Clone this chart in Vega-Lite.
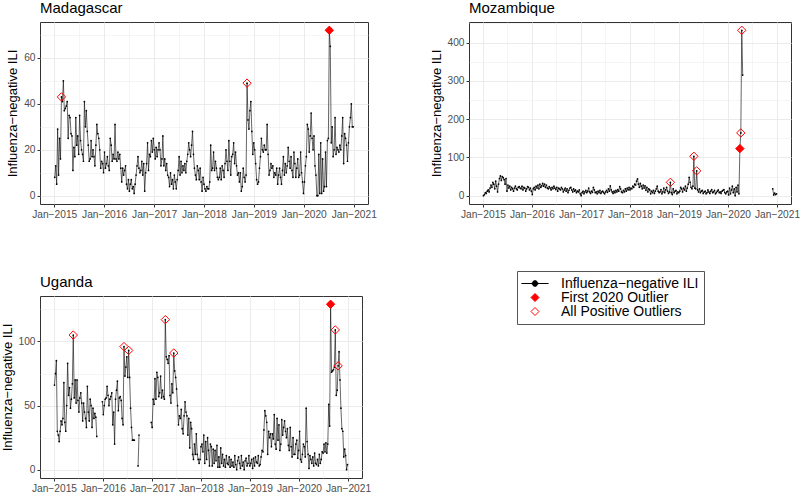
{
"$schema": "https://vega.github.io/schema/vega-lite/v6.json",
"background": "white",
"padding": {"left": 0, "top": 0, "right": 0, "bottom": 0},
"autosize": {"type": "pad"},
"config": {
 "font": "Liberation Sans",
 "view": {"stroke": "#333333", "strokeWidth": 1},
 "title": {"anchor": "start", "frame": "group", "fontSize": 15, "fontWeight": "normal", "color": "black", "offset": 6, "font": "Liberation Sans"},
 "axis": {"domain": false, "tickColor": "#333333", "tickSize": 3, "labelColor": "#4D4D4D", "labelFontSize": 10.2, "labelFont": "Liberation Sans", "titleFont": "Liberation Sans", "titleFontSize": 13, "titleFontWeight": "normal", "titleColor": "black", "gridColor": "#EBEBEB", "labelPadding": 2, "titlePadding": 4, "labelOverlap": false, "labelFlush": false},
 "legend": {"padding": 5.5, "rowPadding": -3.5, "strokeColor": "#555555", "fillColor": "white", "labelFontSize": 14, "labelColor": "black", "labelFont": "Liberation Sans", "labelLimit": 300, "symbolSize": 64, "symbolOffset": 5.5, "labelOffset": 19, "symbolStrokeWidth": 1}
},
"datasets": {
"mad": [
{"d":"2015-01-05","v":8},{"d":"2015-01-12","v":13},{"d":"2015-01-19","v":5},{"d":"2015-01-26","v":29},{"d":"2015-02-02","v":9},{"d":"2015-02-09","v":25},{"d":"2015-02-16","v":16},{"d":"2015-02-23","v":43},{"d":"2015-03-02","v":41},{"d":"2015-03-09","v":50},{"d":"2015-03-16","v":37},{"d":"2015-03-23","v":38},{"d":"2015-03-30","v":39},{"d":"2015-04-06","v":41},{"d":"2015-04-13","v":25},{"d":"2015-04-20","v":35},{"d":"2015-04-27","v":34},{"d":"2015-05-04","v":27},{"d":"2015-05-11","v":26},{"d":"2015-05-18","v":11},{"d":"2015-05-25","v":21},{"d":"2015-06-01","v":17},{"d":"2015-06-08","v":34},{"d":"2015-06-15","v":22},{"d":"2015-06-22","v":26},{"d":"2015-06-29","v":18},{"d":"2015-07-06","v":35},{"d":"2015-07-13","v":24},{"d":"2015-07-20","v":20},{"d":"2015-07-27","v":18},{"d":"2015-08-03","v":15},{"d":"2015-08-10","v":41},{"d":"2015-08-17","v":30},{"d":"2015-08-24","v":37},{"d":"2015-08-31","v":28},{"d":"2015-09-07","v":22},{"d":"2015-09-14","v":15},{"d":"2015-09-21","v":16},{"d":"2015-09-28","v":24},{"d":"2015-10-05","v":17},{"d":"2015-10-12","v":20},{"d":"2015-10-19","v":17},{"d":"2015-10-26","v":13},{"d":"2015-11-02","v":22},{"d":"2015-11-09","v":31},{"d":"2015-11-16","v":27},{"d":"2015-11-23","v":25},{"d":"2015-11-30","v":20},{"d":"2015-12-07","v":12},{"d":"2015-12-14","v":15},{"d":"2015-12-21","v":14},{"d":"2015-12-28","v":10},
{"d":"2016-01-04","v":19},{"d":"2016-01-11","v":12},{"d":"2016-01-18","v":14},{"d":"2016-01-25","v":17},{"d":"2016-02-01","v":13},{"d":"2016-02-08","v":11},{"d":"2016-02-15","v":25},{"d":"2016-02-22","v":22},{"d":"2016-02-29","v":15},{"d":"2016-03-07","v":18},{"d":"2016-03-14","v":16},{"d":"2016-03-21","v":31},{"d":"2016-03-28","v":16},{"d":"2016-04-04","v":15},{"d":"2016-04-11","v":19},{"d":"2016-04-18","v":16},{"d":"2016-04-25","v":18},{"d":"2016-05-02","v":12},{"d":"2016-05-09","v":6},{"d":"2016-05-16","v":12},{"d":"2016-05-23","v":9},{"d":"2016-05-30","v":11},{"d":"2016-06-06","v":13},{"d":"2016-06-13","v":5},{"d":"2016-06-20","v":3},{"d":"2016-06-27","v":7},{"d":"2016-07-04","v":2},{"d":"2016-07-11","v":5},{"d":"2016-07-18","v":7},{"d":"2016-07-25","v":3},{"d":"2016-08-01","v":4},{"d":"2016-08-08","v":1},{"d":"2016-08-15","v":5},{"d":"2016-08-22","v":9},{"d":"2016-08-29","v":13},{"d":"2016-09-05","v":17},{"d":"2016-09-12","v":12},{"d":"2016-09-19","v":10},{"d":"2016-09-26","v":11},{"d":"2016-10-03","v":15},{"d":"2016-10-10","v":9},{"d":"2016-10-17","v":14},{"d":"2016-10-24","v":2},{"d":"2016-10-31","v":10},{"d":"2016-11-07","v":14},{"d":"2016-11-14","v":23},{"d":"2016-11-21","v":11},{"d":"2016-11-28","v":18},{"d":"2016-12-05","v":17},{"d":"2016-12-12","v":24},{"d":"2016-12-19","v":19},{"d":"2016-12-26","v":25},
{"d":"2017-01-02","v":20},{"d":"2017-01-09","v":16},{"d":"2017-01-16","v":21},{"d":"2017-01-23","v":17},{"d":"2017-01-30","v":20},{"d":"2017-02-06","v":23},{"d":"2017-02-13","v":20},{"d":"2017-02-20","v":13},{"d":"2017-02-27","v":16},{"d":"2017-03-06","v":26},{"d":"2017-03-13","v":13},{"d":"2017-03-20","v":16},{"d":"2017-03-27","v":11},{"d":"2017-04-03","v":14},{"d":"2017-04-10","v":9},{"d":"2017-04-17","v":8},{"d":"2017-04-24","v":4},{"d":"2017-05-01","v":10},{"d":"2017-05-08","v":5},{"d":"2017-05-15","v":7},{"d":"2017-05-22","v":3},{"d":"2017-05-29","v":9},{"d":"2017-06-05","v":6},{"d":"2017-06-12","v":3},{"d":"2017-06-19","v":7},{"d":"2017-06-26","v":11},{"d":"2017-07-03","v":17},{"d":"2017-07-10","v":9},{"d":"2017-07-17","v":15},{"d":"2017-07-24","v":10},{"d":"2017-07-31","v":13},{"d":"2017-08-07","v":11},{"d":"2017-08-14","v":14},{"d":"2017-08-21","v":10},{"d":"2017-08-28","v":15},{"d":"2017-09-04","v":18},{"d":"2017-09-11","v":23},{"d":"2017-09-18","v":20},{"d":"2017-09-25","v":17},{"d":"2017-10-02","v":22},{"d":"2017-10-09","v":28},{"d":"2017-10-16","v":18},{"d":"2017-10-23","v":12},{"d":"2017-10-30","v":9},{"d":"2017-11-06","v":7},{"d":"2017-11-13","v":13},{"d":"2017-11-20","v":11},{"d":"2017-11-27","v":7},{"d":"2017-12-04","v":12},{"d":"2017-12-11","v":6},{"d":"2017-12-18","v":2},{"d":"2017-12-25","v":8},
{"d":"2018-01-01","v":5},{"d":"2018-01-08","v":3},{"d":"2018-01-15","v":2},{"d":"2018-01-22","v":4},{"d":"2018-01-29","v":3},{"d":"2018-02-05","v":3},{"d":"2018-02-12","v":6},{"d":"2018-02-19","v":22},{"d":"2018-02-26","v":11},{"d":"2018-03-05","v":12},{"d":"2018-03-12","v":19},{"d":"2018-03-19","v":11},{"d":"2018-03-26","v":15},{"d":"2018-04-02","v":12},{"d":"2018-04-09","v":8},{"d":"2018-04-16","v":7},{"d":"2018-04-23","v":8},{"d":"2018-04-30","v":12},{"d":"2018-05-07","v":7},{"d":"2018-05-14","v":13},{"d":"2018-05-21","v":11},{"d":"2018-05-28","v":8},{"d":"2018-06-04","v":14},{"d":"2018-06-11","v":20},{"d":"2018-06-18","v":15},{"d":"2018-06-25","v":11},{"d":"2018-07-02","v":24},{"d":"2018-07-09","v":15},{"d":"2018-07-16","v":9},{"d":"2018-07-23","v":17},{"d":"2018-07-30","v":18},{"d":"2018-08-06","v":23},{"d":"2018-08-13","v":14},{"d":"2018-08-20","v":19},{"d":"2018-08-27","v":13},{"d":"2018-09-03","v":9},{"d":"2018-09-10","v":10},{"d":"2018-09-17","v":6},{"d":"2018-09-24","v":10},{"d":"2018-10-01","v":2},{"d":"2018-10-08","v":4},{"d":"2018-10-15","v":12},{"d":"2018-10-22","v":8},{"d":"2018-10-29","v":6},{"d":"2018-11-05","v":9},{"d":"2018-11-12","v":49},{"d":"2018-11-19","v":33},{"d":"2018-11-26","v":29},{"d":"2018-12-03","v":37},{"d":"2018-12-10","v":41},{"d":"2018-12-17","v":28},{"d":"2018-12-24","v":18},{"d":"2018-12-31","v":23},
{"d":"2019-01-07","v":20},{"d":"2019-01-14","v":14},{"d":"2019-01-21","v":7},{"d":"2019-01-28","v":5},{"d":"2019-02-04","v":6},{"d":"2019-02-11","v":12},{"d":"2019-02-18","v":17},{"d":"2019-02-25","v":25},{"d":"2019-03-04","v":20},{"d":"2019-03-11","v":19},{"d":"2019-03-18","v":22},{"d":"2019-03-25","v":20},{"d":"2019-04-01","v":20},{"d":"2019-04-08","v":31},{"d":"2019-04-15","v":18},{"d":"2019-04-22","v":9},{"d":"2019-04-29","v":11},{"d":"2019-05-06","v":14},{"d":"2019-05-13","v":12},{"d":"2019-05-20","v":13},{"d":"2019-05-27","v":8},{"d":"2019-06-03","v":10},{"d":"2019-06-10","v":9},{"d":"2019-06-17","v":12},{"d":"2019-06-24","v":5},{"d":"2019-07-01","v":9},{"d":"2019-07-08","v":12},{"d":"2019-07-15","v":8},{"d":"2019-07-22","v":5},{"d":"2019-07-29","v":11},{"d":"2019-08-05","v":17},{"d":"2019-08-12","v":9},{"d":"2019-08-19","v":14},{"d":"2019-08-26","v":10},{"d":"2019-09-02","v":13},{"d":"2019-09-09","v":21},{"d":"2019-09-16","v":15},{"d":"2019-09-23","v":12},{"d":"2019-09-30","v":17},{"d":"2019-10-07","v":11},{"d":"2019-10-14","v":8},{"d":"2019-10-21","v":19},{"d":"2019-10-28","v":14},{"d":"2019-11-04","v":8},{"d":"2019-11-11","v":12},{"d":"2019-11-18","v":16},{"d":"2019-11-25","v":8},{"d":"2019-12-02","v":9},{"d":"2019-12-09","v":19},{"d":"2019-12-16","v":10},{"d":"2019-12-23","v":6},{"d":"2019-12-30","v":1},
{"d":"2020-01-06","v":6},{"d":"2020-01-13","v":13},{"d":"2020-01-20","v":17},{"d":"2020-01-27","v":31},{"d":"2020-02-03","v":29},{"d":"2020-02-10","v":19},{"d":"2020-02-17","v":26},{"d":"2020-02-24","v":36},{"d":"2020-03-02","v":25},{"d":"2020-03-09","v":20},{"d":"2020-03-16","v":26},{"d":"2020-03-23","v":13},{"d":"2020-03-30","v":9},{"d":"2020-04-06","v":0},{"d":"2020-04-13","v":0},{"d":"2020-04-20","v":18},{"d":"2020-04-27","v":1},{"d":"2020-05-04","v":23},{"d":"2020-05-11","v":1},{"d":"2020-05-18","v":16},{"d":"2020-05-25","v":2},{"d":"2020-06-01","v":4},{"d":"2020-06-08","v":19},{"d":"2020-06-15","v":4},{"d":"2020-06-22","v":24},{"d":"2020-06-29","v":25},{"d":"2020-07-06","v":72},{"d":"2020-07-13","v":65},{"d":"2020-07-20","v":23},{"d":"2020-07-27","v":30},{"d":"2020-08-03","v":17},{"d":"2020-08-10","v":20},{"d":"2020-08-17","v":34},{"d":"2020-08-24","v":18},{"d":"2020-08-31","v":21},{"d":"2020-09-07","v":20},{"d":"2020-09-14","v":19},{"d":"2020-09-21","v":22},{"d":"2020-09-28","v":20},{"d":"2020-10-05","v":26},{"d":"2020-10-12","v":34},{"d":"2020-10-19","v":14},{"d":"2020-10-26","v":27},{"d":"2020-11-02","v":25},{"d":"2020-11-09","v":22},{"d":"2020-11-16","v":15},{"d":"2020-11-23","v":23},{"d":"2020-11-30","v":30},{"d":"2020-12-07","v":34},{"d":"2020-12-14","v":40},{"d":"2020-12-21","v":30},{"d":"2020-12-28","v":30}
],
"madOut": [
{"d":"2015-02-23","v":43,"t":"All Positive Outliers"},{"d":"2018-11-12","v":49,"t":"All Positive Outliers"},{"d":"2020-07-06","v":72,"t":"First 2020 Outlier"}
],
"moz": [
{"d":"2015-01-05","v":0},{"d":"2015-01-12","v":3},{"d":"2015-01-19","v":8},{"d":"2015-01-26","v":6},{"d":"2015-02-02","v":12},{"d":"2015-02-09","v":15},{"d":"2015-02-16","v":10},{"d":"2015-02-23","v":20},{"d":"2015-03-02","v":28},{"d":"2015-03-09","v":22},{"d":"2015-03-16","v":35},{"d":"2015-03-23","v":30},{"d":"2015-03-30","v":18},{"d":"2015-04-06","v":38},{"d":"2015-04-13","v":25},{"d":"2015-04-20","v":10},{"d":"2015-04-27","v":30},{"d":"2015-05-04","v":45},{"d":"2015-05-11","v":52},{"d":"2015-05-18","v":40},{"d":"2015-05-25","v":50},{"d":"2015-06-01","v":47},{"d":"2015-06-08","v":42},{"d":"2015-06-15","v":30},{"d":"2015-06-22","v":45},{"d":"2015-06-29","v":12},{"d":"2015-07-06","v":28},{"d":"2015-07-13","v":20},{"d":"2015-07-20","v":25},{"d":"2015-07-27","v":15},{"d":"2015-08-03","v":22},{"d":"2015-08-10","v":18},{"d":"2015-08-17","v":12},{"d":"2015-08-24","v":20},{"d":"2015-08-31","v":25},{"d":"2015-09-07","v":18},{"d":"2015-09-14","v":15},{"d":"2015-09-21","v":22},{"d":"2015-09-28","v":24},{"d":"2015-10-05","v":20},{"d":"2015-10-12","v":18},{"d":"2015-10-19","v":25},{"d":"2015-10-26","v":15},{"d":"2015-11-02","v":22},{"d":"2015-11-09","v":20},{"d":"2015-11-16","v":12},{"d":"2015-11-23","v":18},{"d":"2015-11-30","v":24},{"d":"2015-12-07","v":22},{"d":"2015-12-14","v":15},{"d":"2015-12-21","v":20},{"d":"2015-12-28","v":12},
{"d":"2016-01-04","v":3},{"d":"2016-01-11","v":18},{"d":"2016-01-18","v":22},{"d":"2016-01-25","v":15},{"d":"2016-02-01","v":25},{"d":"2016-02-08","v":20},{"d":"2016-02-15","v":28},{"d":"2016-02-22","v":18},{"d":"2016-02-29","v":30},{"d":"2016-03-07","v":22},{"d":"2016-03-14","v":26},{"d":"2016-03-21","v":32},{"d":"2016-03-28","v":25},{"d":"2016-04-04","v":30},{"d":"2016-04-11","v":22},{"d":"2016-04-18","v":28},{"d":"2016-04-25","v":20},{"d":"2016-05-02","v":18},{"d":"2016-05-09","v":24},{"d":"2016-05-16","v":20},{"d":"2016-05-23","v":15},{"d":"2016-05-30","v":22},{"d":"2016-06-06","v":18},{"d":"2016-06-13","v":25},{"d":"2016-06-20","v":20},{"d":"2016-06-27","v":16},{"d":"2016-07-04","v":22},{"d":"2016-07-11","v":12},{"d":"2016-07-18","v":20},{"d":"2016-07-25","v":18},{"d":"2016-08-01","v":15},{"d":"2016-08-08","v":22},{"d":"2016-08-15","v":18},{"d":"2016-08-22","v":10},{"d":"2016-08-29","v":15},{"d":"2016-09-05","v":20},{"d":"2016-09-12","v":12},{"d":"2016-09-19","v":18},{"d":"2016-09-26","v":8},{"d":"2016-10-03","v":14},{"d":"2016-10-10","v":20},{"d":"2016-10-17","v":22},{"d":"2016-10-24","v":15},{"d":"2016-10-31","v":10},{"d":"2016-11-07","v":18},{"d":"2016-11-14","v":12},{"d":"2016-11-21","v":15},{"d":"2016-11-28","v":8},{"d":"2016-12-05","v":12},{"d":"2016-12-12","v":10},{"d":"2016-12-19","v":15},{"d":"2016-12-26","v":5},
{"d":"2017-01-02","v":0},{"d":"2017-01-09","v":8},{"d":"2017-01-16","v":12},{"d":"2017-01-23","v":5},{"d":"2017-01-30","v":10},{"d":"2017-02-06","v":14},{"d":"2017-02-13","v":8},{"d":"2017-02-20","v":12},{"d":"2017-02-27","v":20},{"d":"2017-03-06","v":10},{"d":"2017-03-13","v":6},{"d":"2017-03-20","v":12},{"d":"2017-03-27","v":9},{"d":"2017-04-03","v":22},{"d":"2017-04-10","v":15},{"d":"2017-04-17","v":8},{"d":"2017-04-24","v":10},{"d":"2017-05-01","v":5},{"d":"2017-05-08","v":12},{"d":"2017-05-15","v":8},{"d":"2017-05-22","v":14},{"d":"2017-05-29","v":6},{"d":"2017-06-05","v":10},{"d":"2017-06-12","v":12},{"d":"2017-06-19","v":8},{"d":"2017-06-26","v":5},{"d":"2017-07-03","v":10},{"d":"2017-07-10","v":14},{"d":"2017-07-17","v":9},{"d":"2017-07-24","v":18},{"d":"2017-07-31","v":12},{"d":"2017-08-07","v":26},{"d":"2017-08-14","v":15},{"d":"2017-08-21","v":10},{"d":"2017-08-28","v":6},{"d":"2017-09-04","v":12},{"d":"2017-09-11","v":8},{"d":"2017-09-18","v":14},{"d":"2017-09-25","v":10},{"d":"2017-10-02","v":16},{"d":"2017-10-09","v":12},{"d":"2017-10-16","v":24},{"d":"2017-10-23","v":18},{"d":"2017-10-30","v":10},{"d":"2017-11-06","v":8},{"d":"2017-11-13","v":14},{"d":"2017-11-20","v":10},{"d":"2017-11-27","v":18},{"d":"2017-12-04","v":12},{"d":"2017-12-11","v":20},{"d":"2017-12-18","v":15},{"d":"2017-12-25","v":22},
{"d":"2018-01-01","v":15},{"d":"2018-01-08","v":20},{"d":"2018-01-15","v":18},{"d":"2018-01-22","v":25},{"d":"2018-01-29","v":22},{"d":"2018-02-05","v":30},{"d":"2018-02-12","v":28},{"d":"2018-02-19","v":38},{"d":"2018-02-26","v":44},{"d":"2018-03-05","v":30},{"d":"2018-03-12","v":22},{"d":"2018-03-19","v":32},{"d":"2018-03-26","v":25},{"d":"2018-04-02","v":18},{"d":"2018-04-09","v":28},{"d":"2018-04-16","v":20},{"d":"2018-04-23","v":26},{"d":"2018-04-30","v":14},{"d":"2018-05-07","v":22},{"d":"2018-05-14","v":10},{"d":"2018-05-21","v":18},{"d":"2018-05-28","v":15},{"d":"2018-06-04","v":5},{"d":"2018-06-11","v":12},{"d":"2018-06-18","v":8},{"d":"2018-06-25","v":14},{"d":"2018-07-02","v":6},{"d":"2018-07-09","v":12},{"d":"2018-07-16","v":18},{"d":"2018-07-23","v":25},{"d":"2018-07-30","v":12},{"d":"2018-08-06","v":8},{"d":"2018-08-13","v":10},{"d":"2018-08-20","v":16},{"d":"2018-08-27","v":5},{"d":"2018-09-03","v":10},{"d":"2018-09-10","v":20},{"d":"2018-09-17","v":8},{"d":"2018-09-24","v":15},{"d":"2018-10-01","v":22},{"d":"2018-10-08","v":12},{"d":"2018-10-15","v":6},{"d":"2018-10-22","v":10},{"d":"2018-10-29","v":35},{"d":"2018-11-05","v":8},{"d":"2018-11-12","v":3},{"d":"2018-11-19","v":18},{"d":"2018-11-26","v":8},{"d":"2018-12-03","v":12},{"d":"2018-12-10","v":14},{"d":"2018-12-17","v":5},{"d":"2018-12-24","v":10},{"d":"2018-12-31","v":8},
{"d":"2019-01-07","v":12},{"d":"2019-01-14","v":22},{"d":"2019-01-21","v":18},{"d":"2019-01-28","v":10},{"d":"2019-02-04","v":20},{"d":"2019-02-11","v":15},{"d":"2019-02-18","v":25},{"d":"2019-02-25","v":12},{"d":"2019-03-04","v":20},{"d":"2019-03-11","v":30},{"d":"2019-03-18","v":48},{"d":"2019-03-25","v":35},{"d":"2019-04-01","v":22},{"d":"2019-04-08","v":18},{"d":"2019-04-15","v":25},{"d":"2019-04-22","v":103},{"d":"2019-04-29","v":20},{"d":"2019-05-06","v":18},{"d":"2019-05-13","v":65},{"d":"2019-05-20","v":15},{"d":"2019-05-27","v":10},{"d":"2019-06-03","v":18},{"d":"2019-06-10","v":8},{"d":"2019-06-17","v":12},{"d":"2019-06-24","v":14},{"d":"2019-07-01","v":6},{"d":"2019-07-08","v":10},{"d":"2019-07-15","v":12},{"d":"2019-07-22","v":5},{"d":"2019-07-29","v":8},{"d":"2019-08-05","v":15},{"d":"2019-08-12","v":10},{"d":"2019-08-19","v":6},{"d":"2019-08-26","v":12},{"d":"2019-09-02","v":16},{"d":"2019-09-09","v":8},{"d":"2019-09-16","v":10},{"d":"2019-09-23","v":14},{"d":"2019-09-30","v":5},{"d":"2019-10-07","v":8},{"d":"2019-10-14","v":12},{"d":"2019-10-21","v":15},{"d":"2019-10-28","v":8},{"d":"2019-11-04","v":10},{"d":"2019-11-11","v":6},{"d":"2019-11-18","v":12},{"d":"2019-11-25","v":14},{"d":"2019-12-02","v":16},{"d":"2019-12-09","v":8},{"d":"2019-12-16","v":5},{"d":"2019-12-23","v":10},{"d":"2019-12-30","v":12},
{"d":"2020-01-06","v":2},{"d":"2020-01-13","v":20},{"d":"2020-01-20","v":5},{"d":"2020-01-27","v":15},{"d":"2020-02-03","v":25},{"d":"2020-02-10","v":8},{"d":"2020-02-17","v":18},{"d":"2020-02-24","v":0},{"d":"2020-03-02","v":22},{"d":"2020-03-09","v":10},{"d":"2020-03-16","v":28},{"d":"2020-03-23","v":5},{"d":"2020-03-30","v":123},{"d":"2020-04-06","v":164},{"d":"2020-04-13","v":432},{"d":"2020-04-20","v":315},{"d":"2020-04-27","v":null},
{"d":"2020-11-30","v":18},{"d":"2020-12-07","v":2},{"d":"2020-12-14","v":7},{"d":"2020-12-21","v":3},{"d":"2020-12-28","v":5}
],
"mozOut": [
{"d":"2018-10-29","v":35,"t":"All Positive Outliers"},{"d":"2019-04-22","v":103,"t":"All Positive Outliers"},{"d":"2019-05-13","v":65,"t":"All Positive Outliers"},{"d":"2020-03-30","v":123,"t":"First 2020 Outlier"},{"d":"2020-04-06","v":164,"t":"All Positive Outliers"},{"d":"2020-04-13","v":432,"t":"All Positive Outliers"}
],
"uga": [
{"d":"2015-01-05","v":66},{"d":"2015-01-12","v":75},{"d":"2015-01-19","v":85},{"d":"2015-01-26","v":30},{"d":"2015-02-02","v":27},{"d":"2015-02-09","v":22},{"d":"2015-02-16","v":30},{"d":"2015-02-23","v":38},{"d":"2015-03-02","v":35},{"d":"2015-03-09","v":40},{"d":"2015-03-16","v":68},{"d":"2015-03-23","v":37},{"d":"2015-03-30","v":30},{"d":"2015-04-06","v":50},{"d":"2015-04-13","v":83},{"d":"2015-04-20","v":58},{"d":"2015-04-27","v":64},{"d":"2015-05-04","v":48},{"d":"2015-05-11","v":55},{"d":"2015-05-18","v":67},{"d":"2015-05-25","v":105},{"d":"2015-06-01","v":56},{"d":"2015-06-08","v":70},{"d":"2015-06-15","v":52},{"d":"2015-06-22","v":70},{"d":"2015-06-29","v":54},{"d":"2015-07-06","v":45},{"d":"2015-07-13","v":56},{"d":"2015-07-20","v":60},{"d":"2015-07-27","v":52},{"d":"2015-08-03","v":38},{"d":"2015-08-10","v":52},{"d":"2015-08-17","v":45},{"d":"2015-08-24","v":40},{"d":"2015-08-31","v":33},{"d":"2015-09-07","v":65},{"d":"2015-09-14","v":45},{"d":"2015-09-21","v":38},{"d":"2015-09-28","v":55},{"d":"2015-10-05","v":50},{"d":"2015-10-12","v":33},{"d":"2015-10-19","v":48},{"d":"2015-10-26","v":40},{"d":"2015-11-02","v":44},{"d":"2015-11-09","v":41},{"d":"2015-11-16","v":26},{"d":"2015-11-23","v":null},
{"d":"2015-12-28","v":53},{"d":"2016-01-04","v":43},{"d":"2016-01-11","v":50},{"d":"2016-01-18","v":55},{"d":"2016-01-25","v":56},{"d":"2016-02-01","v":65},{"d":"2016-02-08","v":58},{"d":"2016-02-15","v":50},{"d":"2016-02-22","v":55},{"d":"2016-02-29","v":57},{"d":"2016-03-07","v":60},{"d":"2016-03-14","v":35},{"d":"2016-03-21","v":45},{"d":"2016-03-28","v":20},{"d":"2016-04-04","v":55},{"d":"2016-04-11","v":62},{"d":"2016-04-18","v":69},{"d":"2016-04-25","v":46},{"d":"2016-05-02","v":56},{"d":"2016-05-09","v":57},{"d":"2016-05-16","v":54},{"d":"2016-05-23","v":40},{"d":"2016-05-30","v":35},{"d":"2016-06-06","v":96},{"d":"2016-06-13","v":73},{"d":"2016-06-20","v":80},{"d":"2016-06-27","v":88},{"d":"2016-07-04","v":72},{"d":"2016-07-11","v":93},{"d":"2016-07-18","v":72},{"d":"2016-07-25","v":48},{"d":"2016-08-01","v":33},{"d":"2016-08-08","v":23},{"d":"2016-08-15","v":23},{"d":"2016-08-22","v":23},{"d":"2016-09-05","v":null},{"d":"2016-09-19","v":3},{"d":"2016-09-26","v":27},{"d":"2016-10-03","v":null},
{"d":"2016-12-26","v":37},{"d":"2017-01-02","v":33},{"d":"2017-01-09","v":55},{"d":"2017-01-16","v":51},{"d":"2017-01-23","v":71},{"d":"2017-01-30","v":55},{"d":"2017-02-06","v":76},{"d":"2017-02-13","v":72},{"d":"2017-02-20","v":57},{"d":"2017-02-27","v":60},{"d":"2017-03-06","v":73},{"d":"2017-03-13","v":56},{"d":"2017-03-20","v":62},{"d":"2017-03-27","v":57},{"d":"2017-04-03","v":55},{"d":"2017-04-10","v":117},{"d":"2017-04-17","v":88},{"d":"2017-04-24","v":86},{"d":"2017-05-01","v":83},{"d":"2017-05-08","v":89},{"d":"2017-05-15","v":58},{"d":"2017-05-22","v":52},{"d":"2017-05-29","v":67},{"d":"2017-06-05","v":60},{"d":"2017-06-12","v":91},{"d":"2017-06-19","v":77},{"d":"2017-06-26","v":72},{"d":"2017-07-03","v":63},{"d":"2017-07-10","v":50},{"d":"2017-07-17","v":35},{"d":"2017-07-24","v":42},{"d":"2017-07-31","v":40},{"d":"2017-08-07","v":47},{"d":"2017-08-14","v":32},{"d":"2017-08-21","v":28},{"d":"2017-08-28","v":42},{"d":"2017-09-04","v":53},{"d":"2017-09-11","v":45},{"d":"2017-09-18","v":42},{"d":"2017-09-25","v":27},{"d":"2017-10-02","v":40},{"d":"2017-10-09","v":17},{"d":"2017-10-16","v":37},{"d":"2017-10-23","v":32},{"d":"2017-10-30","v":12},{"d":"2017-11-06","v":8},{"d":"2017-11-13","v":20},{"d":"2017-11-20","v":12},{"d":"2017-11-27","v":28},{"d":"2017-12-04","v":12},{"d":"2017-12-11","v":8},{"d":"2017-12-18","v":5},{"d":"2017-12-25","v":8},
{"d":"2018-01-01","v":18},{"d":"2018-01-08","v":20},{"d":"2018-01-15","v":14},{"d":"2018-01-22","v":27},{"d":"2018-01-29","v":5},{"d":"2018-02-05","v":22},{"d":"2018-02-12","v":8},{"d":"2018-02-19","v":25},{"d":"2018-02-26","v":15},{"d":"2018-03-05","v":3},{"d":"2018-03-12","v":20},{"d":"2018-03-19","v":18},{"d":"2018-03-26","v":3},{"d":"2018-04-02","v":16},{"d":"2018-04-09","v":5},{"d":"2018-04-16","v":15},{"d":"2018-04-23","v":7},{"d":"2018-04-30","v":19},{"d":"2018-05-07","v":2},{"d":"2018-05-14","v":10},{"d":"2018-05-21","v":2},{"d":"2018-05-28","v":17},{"d":"2018-06-04","v":5},{"d":"2018-06-11","v":12},{"d":"2018-06-18","v":3},{"d":"2018-06-25","v":8},{"d":"2018-07-02","v":2},{"d":"2018-07-09","v":11},{"d":"2018-07-16","v":5},{"d":"2018-07-23","v":4},{"d":"2018-07-30","v":10},{"d":"2018-08-06","v":2},{"d":"2018-08-13","v":8},{"d":"2018-08-20","v":3},{"d":"2018-08-27","v":6},{"d":"2018-09-03","v":2},{"d":"2018-09-10","v":11},{"d":"2018-09-17","v":4},{"d":"2018-09-24","v":0},{"d":"2018-10-01","v":7},{"d":"2018-10-08","v":10},{"d":"2018-10-15","v":5},{"d":"2018-10-22","v":1},{"d":"2018-10-29","v":11},{"d":"2018-11-05","v":3},{"d":"2018-11-12","v":6},{"d":"2018-11-19","v":0},{"d":"2018-11-26","v":7},{"d":"2018-12-03","v":9},{"d":"2018-12-10","v":3},{"d":"2018-12-17","v":5},{"d":"2018-12-24","v":11},{"d":"2018-12-31","v":3},
{"d":"2019-01-07","v":5},{"d":"2019-01-14","v":8},{"d":"2019-01-21","v":1},{"d":"2019-01-28","v":9},{"d":"2019-02-04","v":3},{"d":"2019-02-11","v":10},{"d":"2019-02-18","v":6},{"d":"2019-02-25","v":5},{"d":"2019-03-04","v":11},{"d":"2019-03-11","v":3},{"d":"2019-03-18","v":4},{"d":"2019-03-25","v":10},{"d":"2019-04-01","v":15},{"d":"2019-04-08","v":14},{"d":"2019-04-15","v":31},{"d":"2019-04-22","v":46},{"d":"2019-04-29","v":42},{"d":"2019-05-06","v":37},{"d":"2019-05-13","v":12},{"d":"2019-05-20","v":30},{"d":"2019-05-27","v":25},{"d":"2019-06-03","v":28},{"d":"2019-06-10","v":18},{"d":"2019-06-17","v":28},{"d":"2019-06-24","v":24},{"d":"2019-07-01","v":43},{"d":"2019-07-08","v":20},{"d":"2019-07-15","v":16},{"d":"2019-07-22","v":40},{"d":"2019-07-29","v":23},{"d":"2019-08-05","v":35},{"d":"2019-08-12","v":15},{"d":"2019-08-19","v":20},{"d":"2019-08-26","v":39},{"d":"2019-09-02","v":27},{"d":"2019-09-09","v":33},{"d":"2019-09-16","v":38},{"d":"2019-09-23","v":30},{"d":"2019-09-30","v":25},{"d":"2019-10-07","v":32},{"d":"2019-10-14","v":19},{"d":"2019-10-21","v":15},{"d":"2019-10-28","v":33},{"d":"2019-11-04","v":18},{"d":"2019-11-11","v":10},{"d":"2019-11-18","v":25},{"d":"2019-11-25","v":12},{"d":"2019-12-02","v":12},{"d":"2019-12-09","v":20},{"d":"2019-12-16","v":23},{"d":"2019-12-23","v":9},{"d":"2019-12-30","v":15},
{"d":"2020-01-06","v":30},{"d":"2020-01-13","v":8},{"d":"2020-01-20","v":6},{"d":"2020-01-27","v":12},{"d":"2020-02-03","v":20},{"d":"2020-02-10","v":18},{"d":"2020-02-17","v":10},{"d":"2020-02-24","v":48},{"d":"2020-03-02","v":22},{"d":"2020-03-09","v":12},{"d":"2020-03-16","v":1},{"d":"2020-03-23","v":11},{"d":"2020-03-30","v":8},{"d":"2020-04-06","v":5},{"d":"2020-04-13","v":10},{"d":"2020-04-20","v":3},{"d":"2020-04-27","v":13},{"d":"2020-05-04","v":5},{"d":"2020-05-11","v":4},{"d":"2020-05-18","v":8},{"d":"2020-05-25","v":3},{"d":"2020-06-01","v":12},{"d":"2020-06-08","v":5},{"d":"2020-06-15","v":8},{"d":"2020-06-22","v":14},{"d":"2020-06-29","v":13},{"d":"2020-07-06","v":20},{"d":"2020-07-13","v":14},{"d":"2020-07-20","v":21},{"d":"2020-07-27","v":13},{"d":"2020-08-03","v":20},{"d":"2020-08-10","v":51},{"d":"2020-08-17","v":34},{"d":"2020-08-24","v":129},{"d":"2020-08-31","v":76},{"d":"2020-09-07","v":77},{"d":"2020-09-14","v":78},{"d":"2020-09-21","v":80},{"d":"2020-09-28","v":109},{"d":"2020-10-05","v":58},{"d":"2020-10-12","v":62},{"d":"2020-10-19","v":81},{"d":"2020-10-26","v":92},{"d":"2020-11-02","v":70},{"d":"2020-11-09","v":48},{"d":"2020-11-16","v":32},{"d":"2020-11-23","v":30},{"d":"2020-11-30","v":10},{"d":"2020-12-07","v":16},{"d":"2020-12-14","v":11},{"d":"2020-12-21","v":0},{"d":"2020-12-28","v":4}
],
"ugaOut": [
{"d":"2015-05-25","v":105,"t":"All Positive Outliers"},{"d":"2016-06-06","v":96,"t":"All Positive Outliers"},{"d":"2016-07-11","v":93,"t":"All Positive Outliers"},{"d":"2017-04-10","v":117,"t":"All Positive Outliers"},{"d":"2017-06-12","v":91,"t":"All Positive Outliers"},{"d":"2020-08-24","v":129,"t":"First 2020 Outlier"},{"d":"2020-09-28","v":109,"t":"All Positive Outliers"},{"d":"2020-10-19","v":81,"t":"All Positive Outliers"}
]
},
"columns": 2,
"align": "none",
"spacing": {"row": 54, "column": 52},
"concat": [
 {"width": 328, "height": 182, "title": "Madagascar", "data": {"name": "mad"},
  "encoding": {
   "x": {"field": "d", "type": "temporal", "title": null, "scale": {"domain": [{"year":2014,"month":9,"date":19},{"year":2021,"month":4,"date":15}]},
         "axis": {"values": [{"year":2015,"month":1,"date":1},{"year":2015,"month":7,"date":2},{"year":2016,"month":1,"date":1},{"year":2016,"month":7,"date":2},{"year":2017,"month":1,"date":1},{"year":2017,"month":7,"date":2},{"year":2018,"month":1,"date":1},{"year":2018,"month":7,"date":2},{"year":2019,"month":1,"date":1},{"year":2019,"month":7,"date":2},{"year":2020,"month":1,"date":1},{"year":2020,"month":7,"date":2},{"year":2021,"month":1,"date":1}],
                  "labelExpr": "month(datum.value) === 0 ? timeFormat(datum.value, '%b−%Y') : ''",
                  "tickOpacity": {"condition": {"test": "month(datum.value) !== 0", "value": 0}, "value": 1},
                  "gridWidth": {"condition": {"test": "month(datum.value) !== 0", "value": 0.5}, "value": 1}}},
   "y": {"field": "v", "type": "quantitative", "title": "Influenza−negative ILI", "scale": {"domain": [-3.6, 75.6], "nice": false, "zero": false},
         "axis": {"values": [0,10,20,30,40,50,60,70], "labelExpr": "datum.value % 20 === 0 ? datum.label : ''",
                  "tickOpacity": {"condition": {"test": "datum.value % 20 !== 0", "value": 0}, "value": 1},
                  "gridWidth": {"condition": {"test": "datum.value % 20 !== 0", "value": 0.5}, "value": 1}}}
  },
  "layer": [
   {"mark": {"type": "line", "color": "black", "strokeWidth": 0.6, "invalid": "break-paths-show-domains"}},
   {"mark": {"type": "point", "filled": true, "size": 3, "opacity": 1, "color": "black"}},
   {"data": {"name": "madOut"},
    "mark": {"type": "point", "filled": true, "size": 70, "strokeWidth": 1, "opacity": 1},
    "encoding": {
     "shape": {"field": "t", "type": "nominal", "scale": {"domain": ["Influenza−negative ILI", "First 2020 Outlier", "All Positive Outliers"], "range": ["M-3.4,0H3.4M-0.7,0A0.7,0.7,0,1,1,0.7,0A0.7,0.7,0,1,1,-0.7,0Z", "diamond", "diamond"]}, "legend": {"title": null, "orient": "none", "legendX": 477, "legendY": 249}},
     "fill": {"field": "t", "type": "nominal", "scale": {"domain": ["Influenza−negative ILI", "First 2020 Outlier", "All Positive Outliers"], "range": ["black", "red", "transparent"]}, "legend": {"title": null, "orient": "none", "legendX": 477, "legendY": 249}},
     "stroke": {"field": "t", "type": "nominal", "scale": {"domain": ["Influenza−negative ILI", "First 2020 Outlier", "All Positive Outliers"], "range": ["black", "red", "red"]}, "legend": {"title": null, "orient": "none", "legendX": 477, "legendY": 249}}
    }}
  ]},
 {"width": 322, "height": 182, "title": {"text": "Mozambique", "offset": 2}, "data": {"name": "moz"},
  "encoding": {
   "x": {"field": "d", "type": "temporal", "title": null, "scale": {"domain": [{"year":2014,"month":9,"date":19},{"year":2021,"month":4,"date":15}]},
         "axis": {"values": [{"year":2015,"month":1,"date":1},{"year":2015,"month":7,"date":2},{"year":2016,"month":1,"date":1},{"year":2016,"month":7,"date":2},{"year":2017,"month":1,"date":1},{"year":2017,"month":7,"date":2},{"year":2018,"month":1,"date":1},{"year":2018,"month":7,"date":2},{"year":2019,"month":1,"date":1},{"year":2019,"month":7,"date":2},{"year":2020,"month":1,"date":1},{"year":2020,"month":7,"date":2},{"year":2021,"month":1,"date":1}],
                  "labelExpr": "month(datum.value) === 0 ? timeFormat(datum.value, '%b−%Y') : ''",
                  "tickOpacity": {"condition": {"test": "month(datum.value) !== 0", "value": 0}, "value": 1},
                  "gridWidth": {"condition": {"test": "month(datum.value) !== 0", "value": 0.5}, "value": 1}}},
   "y": {"field": "v", "type": "quantitative", "title": "Influenza−negative ILI", "scale": {"domain": [-21.6, 453.6], "nice": false, "zero": false},
         "axis": {"values": [0,50,100,150,200,250,300,350,400,450], "labelExpr": "datum.value % 100 === 0 ? datum.label : ''",
                  "tickOpacity": {"condition": {"test": "datum.value % 100 !== 0", "value": 0}, "value": 1},
                  "gridWidth": {"condition": {"test": "datum.value % 100 !== 0", "value": 0.5}, "value": 1}}}
  },
  "layer": [
   {"mark": {"type": "line", "color": "black", "strokeWidth": 0.6, "invalid": "break-paths-show-domains"}},
   {"mark": {"type": "point", "filled": true, "size": 3, "opacity": 1, "color": "black"}},
   {"data": {"name": "mozOut"},
    "mark": {"type": "point", "filled": true, "size": 70, "strokeWidth": 1, "opacity": 1},
    "encoding": {
     "shape": {"field": "t", "type": "nominal", "scale": {"domain": ["Influenza−negative ILI", "First 2020 Outlier", "All Positive Outliers"], "range": ["M-3.4,0H3.4M-0.7,0A0.7,0.7,0,1,1,0.7,0A0.7,0.7,0,1,1,-0.7,0Z", "diamond", "diamond"]}, "legend": null},
     "fill": {"field": "t", "type": "nominal", "scale": {"domain": ["Influenza−negative ILI", "First 2020 Outlier", "All Positive Outliers"], "range": ["black", "red", "transparent"]}, "legend": null},
     "stroke": {"field": "t", "type": "nominal", "scale": {"domain": ["Influenza−negative ILI", "First 2020 Outlier", "All Positive Outliers"], "range": ["black", "red", "red"]}, "legend": null}
    }}
  ]},
 {"width": 322, "height": 182, "title": "Uganda", "data": {"name": "uga"},
  "encoding": {
   "x": {"field": "d", "type": "temporal", "title": null, "scale": {"domain": [{"year":2014,"month":9,"date":19},{"year":2021,"month":4,"date":15}]},
         "axis": {"values": [{"year":2015,"month":1,"date":1},{"year":2015,"month":7,"date":2},{"year":2016,"month":1,"date":1},{"year":2016,"month":7,"date":2},{"year":2017,"month":1,"date":1},{"year":2017,"month":7,"date":2},{"year":2018,"month":1,"date":1},{"year":2018,"month":7,"date":2},{"year":2019,"month":1,"date":1},{"year":2019,"month":7,"date":2},{"year":2020,"month":1,"date":1},{"year":2020,"month":7,"date":2},{"year":2021,"month":1,"date":1}],
                  "labelExpr": "month(datum.value) === 0 ? timeFormat(datum.value, '%b−%Y') : ''",
                  "tickOpacity": {"condition": {"test": "month(datum.value) !== 0", "value": 0}, "value": 1},
                  "gridWidth": {"condition": {"test": "month(datum.value) !== 0", "value": 0.5}, "value": 1}}},
   "y": {"field": "v", "type": "quantitative", "title": "Influenza−negative ILI", "scale": {"domain": [-6.45, 135.45], "nice": false, "zero": false},
         "axis": {"values": [0,25,50,75,100,125], "labelExpr": "datum.value % 50 === 0 ? datum.label : ''",
                  "tickOpacity": {"condition": {"test": "datum.value % 50 !== 0", "value": 0}, "value": 1},
                  "gridWidth": {"condition": {"test": "datum.value % 50 !== 0", "value": 0.5}, "value": 1}}}
  },
  "layer": [
   {"mark": {"type": "line", "color": "black", "strokeWidth": 0.6, "invalid": "break-paths-show-domains"}},
   {"mark": {"type": "point", "filled": true, "size": 3, "opacity": 1, "color": "black"}},
   {"data": {"name": "ugaOut"},
    "mark": {"type": "point", "filled": true, "size": 70, "strokeWidth": 1, "opacity": 1},
    "encoding": {
     "shape": {"field": "t", "type": "nominal", "scale": {"domain": ["Influenza−negative ILI", "First 2020 Outlier", "All Positive Outliers"], "range": ["M-3.4,0H3.4M-0.7,0A0.7,0.7,0,1,1,0.7,0A0.7,0.7,0,1,1,-0.7,0Z", "diamond", "diamond"]}, "legend": null},
     "fill": {"field": "t", "type": "nominal", "scale": {"domain": ["Influenza−negative ILI", "First 2020 Outlier", "All Positive Outliers"], "range": ["black", "red", "transparent"]}, "legend": null},
     "stroke": {"field": "t", "type": "nominal", "scale": {"domain": ["Influenza−negative ILI", "First 2020 Outlier", "All Positive Outliers"], "range": ["black", "red", "red"]}, "legend": null}
    }}
  ]}
]
}
